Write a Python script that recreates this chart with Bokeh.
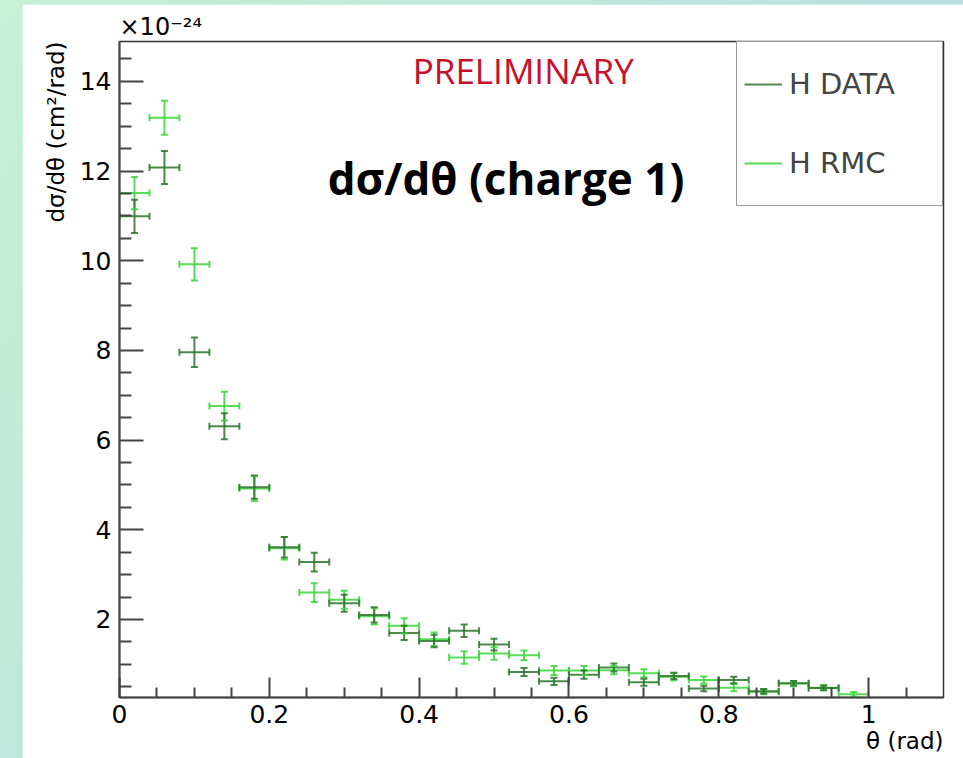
from bokeh.plotting import figure
from bokeh.models import (FixedTicker, Label, Legend, LegendItem, Whisker, TeeHead,
                          ColumnDataSource, Spacer, Range1d, Title)
from bokeh.layouts import row, column
from bokeh.embed import file_html
from bokeh.resources import INLINE

# ---------------- data (values in units of 1e-24 cm^2/rad) ----------------
theta_data = [0.02, 0.06, 0.10, 0.14, 0.18, 0.22, 0.26, 0.30, 0.34, 0.38, 0.42, 0.46,
              0.50, 0.54, 0.58, 0.62, 0.66, 0.70, 0.74, 0.78, 0.82, 0.86, 0.90, 0.94]
data_vals = [10.99, 12.08, 7.96, 6.31, 4.95, 3.61, 3.28, 2.36, 2.10, 1.70, 1.52, 1.75,
             1.44, 0.83, 0.62, 0.77, 0.93, 0.60, 0.74, 0.46, 0.65, 0.40, 0.58, 0.47]
data_errs = [0.37, 0.37, 0.33, 0.29, 0.26, 0.23, 0.21, 0.19, 0.17, 0.16, 0.14, 0.14,
             0.13, 0.09, 0.08, 0.09, 0.09, 0.08, 0.07, 0.06, 0.07, 0.05, 0.05, 0.05]

theta_rmc = [0.02, 0.06, 0.10, 0.14, 0.18, 0.22, 0.26, 0.30, 0.34, 0.38, 0.42, 0.46,
             0.50, 0.54, 0.58, 0.62, 0.66, 0.70, 0.74, 0.78, 0.82, 0.86, 0.90, 0.94, 0.98]
rmc_vals = [11.51, 13.19, 9.92, 6.76, 4.92, 3.59, 2.60, 2.44, 2.07, 1.86, 1.56, 1.15,
            1.24, 1.20, 0.86, 0.86, 0.87, 0.80, 0.72, 0.65, 0.48, 0.39, 0.57, 0.48, 0.33]
rmc_errs = [0.36, 0.38, 0.36, 0.32, 0.28, 0.25, 0.21, 0.20, 0.18, 0.17, 0.15, 0.14,
            0.14, 0.11, 0.10, 0.10, 0.09, 0.09, 0.08, 0.08, 0.08, 0.06, 0.06, 0.06, 0.05]

bin_half = 0.02

x_ticks = [0, 0.2, 0.4, 0.6, 0.8, 1]
x_tick_labels = ["0", "0.2", "0.4", "0.6", "0.8", "1"]
x_minor = [0.05, 0.1, 0.15, 0.25, 0.3, 0.35, 0.45, 0.5, 0.55, 0.65, 0.7, 0.75,
           0.85, 0.9, 0.95, 1.05]
y_ticks = [2, 4, 6, 8, 10, 12, 14]
y_tick_labels = ["2", "4", "6", "8", "10", "12", "14"]
y_minor = [0.5, 1, 1.5, 2.5, 3, 3.5, 4.5, 5, 5.5, 6.5, 7, 7.5, 8.5, 9, 9.5,
           10.5, 11, 11.5, 12.5, 13, 13.5, 14.5]

series_names = ["H DATA", "H RMC"]
DATA_COLOR = "#2c752c"
RMC_COLOR = "#3ad63a"

FONT = "DejaVu Sans"

# ---------------- figure ----------------
p = figure(width=941, height=754, output_backend="svg", toolbar_location=None,
           x_range=Range1d(0, 1.1), y_range=Range1d(0.26, 14.89),
           min_border_left=97, min_border_right=20, min_border_top=37, min_border_bottom=61)
p.background_fill_color = "white"
p.border_fill_color = "white"
p.outline_line_color = "#333333"
p.outline_line_width = 1.5
p.grid.visible = False

for ax in (p.xaxis[0], p.yaxis[0]):
    ax.axis_line_color = "#444444"
    ax.axis_line_width = 2
    ax.major_tick_line_color = "#444444"
    ax.major_tick_line_width = 2
    ax.minor_tick_line_color = "#444444"
    ax.minor_tick_line_width = 2
    ax.major_tick_out = 0
    ax.minor_tick_out = 0
    ax.major_label_text_font = FONT
    ax.major_label_text_font_size = "25px"
    ax.major_label_text_color = "black"

p.xaxis.ticker = FixedTicker(ticks=x_ticks, minor_ticks=x_minor)
p.xaxis.major_label_overrides = {t: l for t, l in zip(x_ticks, x_tick_labels)}
p.xaxis.major_tick_in = 20
p.xaxis.minor_tick_in = 10
p.xaxis.major_label_standoff = 7

p.yaxis.ticker = FixedTicker(ticks=y_ticks, minor_ticks=y_minor)
p.yaxis.major_label_overrides = {t: l for t, l in zip(y_ticks, y_tick_labels)}
p.yaxis.major_tick_in = 24
p.yaxis.minor_tick_in = 12
p.yaxis.major_label_standoff = 8


def draw(theta, vals, errs, color):
    src = ColumnDataSource(dict(
        x=theta, y=vals,
        lo=[v - e for v, e in zip(vals, errs)],
        hi=[v + e for v, e in zip(vals, errs)],
        xl=[t - bin_half for t in theta],
        xr=[t + bin_half for t in theta]))
    h = p.segment(x0="xl", y0="y", x1="xr", y1="y", source=src,
                  line_color=color, line_width=2, line_alpha=0.85)
    p.segment(x0="x", y0="lo", x1="x", y1="hi", source=src,
              line_color=color, line_width=2, line_alpha=0.85)
    wv = Whisker(source=src, base="x", lower="lo", upper="hi", dimension="height",
                 line_alpha=0, level="glyph",
                 upper_head=TeeHead(size=7, line_color=color, line_width=2, line_alpha=0.85),
                 lower_head=TeeHead(size=7, line_color=color, line_width=2, line_alpha=0.85))
    wh = Whisker(source=src, base="y", lower="xl", upper="xr", dimension="width",
                 line_alpha=0, level="glyph",
                 upper_head=TeeHead(size=7, line_color=color, line_width=2, line_alpha=0.85),
                 lower_head=TeeHead(size=7, line_color=color, line_width=2, line_alpha=0.85))
    p.add_layout(wv)
    p.add_layout(wh)
    return h


r_rmc = draw(theta_rmc, rmc_vals, rmc_errs, RMC_COLOR)
r_data = draw(theta_data, data_vals, data_errs, DATA_COLOR)

legend = Legend(items=[LegendItem(label=series_names[0], renderers=[r_data]),
                       LegendItem(label=series_names[1], renderers=[r_rmc])],
                location="top_right", margin=0, padding=7, spacing=9,
                glyph_width=38, glyph_height=70, label_height=70, label_width=146,
                label_standoff=7, label_text_font=FONT, label_text_font_size="29px",
                border_line_color="#333333", border_line_width=1.5,
                background_fill_color="white", background_fill_alpha=1)
p.add_layout(legend)

# ---------------- texts inside the frame ----------------
p.add_layout(Label(x=0.539, y=14.24, text="PRELIMINARY", text_font="Open Sans",
                   text_font_size="35px", text_color="#c5112b",
                   text_align="center", text_baseline="middle"))
p.add_layout(Label(x=0.516, y=11.85, text="dσ/dθ (charge 1)", text_font="Open Sans",
                   text_font_size="44px", text_font_style="bold", text_color="black",
                   text_align="center", text_baseline="middle"))

# ---------------- axis titles and exponent ----------------
p.add_layout(Title(text="dσ/dθ (cm²/rad)", align="right", text_font=FONT,
                   text_font_size="23px", text_font_style="normal", text_color="black",
                   standoff=16), "left")
p.add_layout(Title(text="θ (rad)", align="right", text_font=FONT,
                   text_font_size="23px", text_font_style="normal", text_color="black",
                   standoff=0), "below")
p.add_layout(Title(text="×10⁻²⁴", align="left", text_font=FONT,
                   text_font_size="24px", text_font_style="normal", text_color="black",
                   standoff=2), "above")

layout = row(Spacer(width=22, height=758),
             column(Spacer(width=941, height=4), p),
             styles={"background": "linear-gradient(125deg, #c6f1d6 0%, #bee6db 40%, #b9d3ef 100%)"})

open("out.html", "w").write(file_html(layout, INLINE))
